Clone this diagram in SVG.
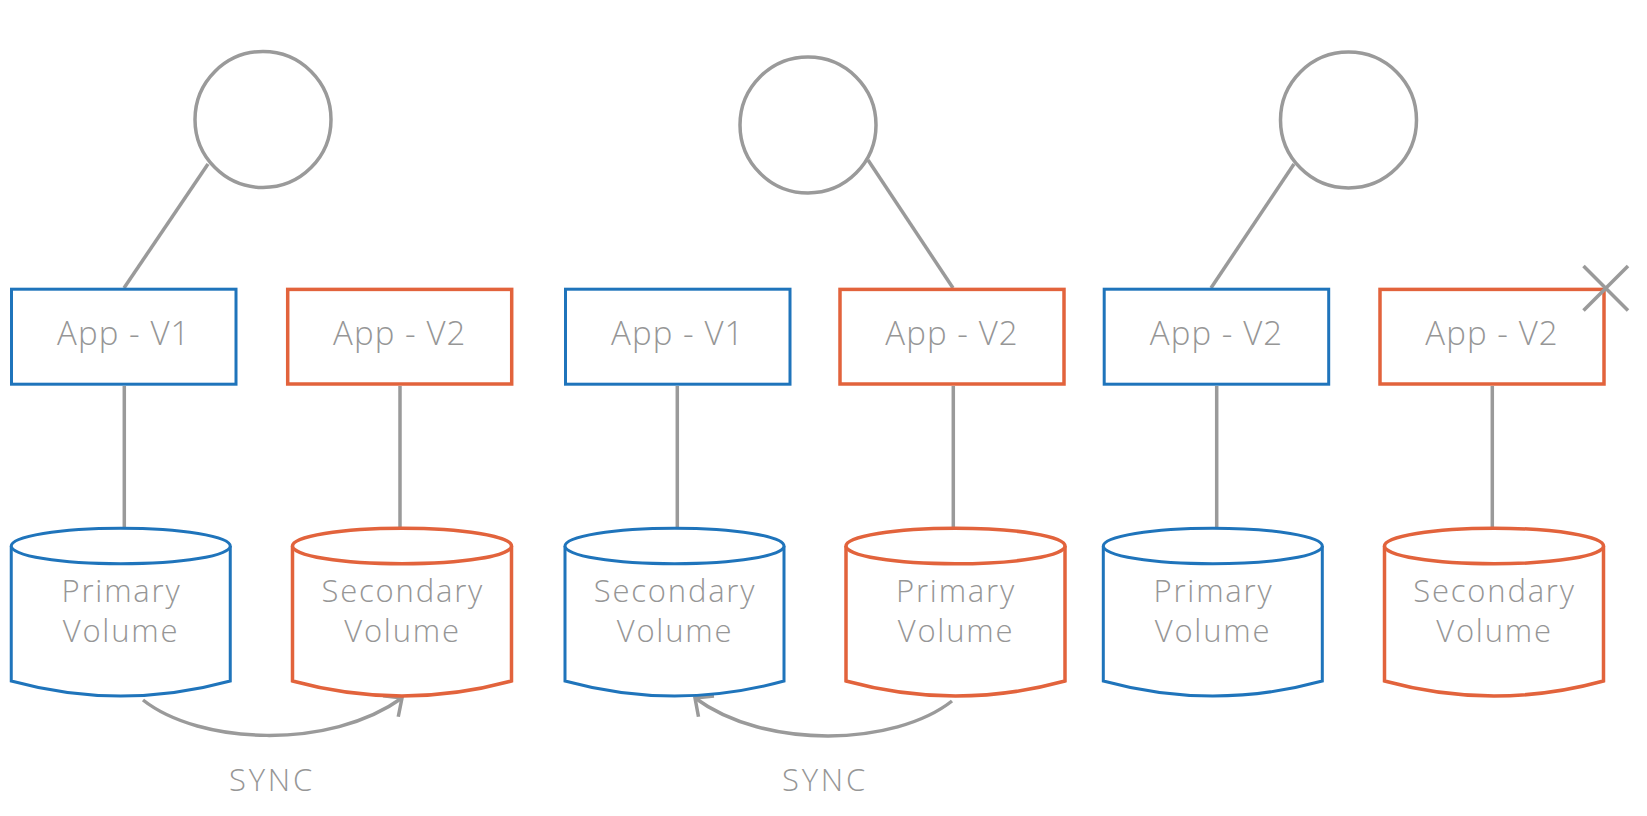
<svg xmlns="http://www.w3.org/2000/svg" width="1647" height="816" viewBox="0 0 1647 816">
<style>
.bg{fill:#ffffff}
.line{stroke:#9a9a9a;stroke-width:3.5;fill:none;stroke-linecap:butt}
.circle{stroke:#9a9a9a;stroke-width:3.5;fill:none}
.blue{stroke:#1f74bb;stroke-width:3;fill:#ffffff}
.orange{stroke:#e2633c;stroke-width:3.5;fill:#ffffff}
.lbl{font-family:"Open Sans","Liberation Sans",sans-serif;font-weight:300;fill:#969696;text-anchor:middle}
.app{font-size:33px;letter-spacing:1.1px}
.vol{font-size:31px;letter-spacing:1.8px}
.sync{font-size:31px;letter-spacing:2.8px}
</style>
<defs>
<marker id="arr" markerUnits="userSpaceOnUse" markerWidth="40" markerHeight="40" viewBox="-20 -20 40 40" refX="0" refY="0" orient="auto">
<path d="M-14,-13 L0,0 L-14,13" fill="none" stroke="#9a9a9a" stroke-width="3.5"/>
</marker>
</defs>
<rect class="bg" x="0" y="0" width="1647" height="816"/>

<g id="connectors">
<line class="line" x1="208" y1="164" x2="124" y2="288"/>
<line class="line" x1="868" y1="160" x2="953" y2="288"/>
<line class="line" x1="1294" y1="164" x2="1211" y2="288"/>
<line class="line" x1="124.3" y1="386" x2="124.3" y2="528"/>
<line class="line" x1="400" y1="386" x2="400" y2="528"/>
<line class="line" x1="677.3" y1="386" x2="677.3" y2="528"/>
<line class="line" x1="953.3" y1="386" x2="953.3" y2="528"/>
<line class="line" x1="1216.7" y1="386" x2="1216.7" y2="528"/>
<line class="line" x1="1492.3" y1="386" x2="1492.3" y2="528"/>
<path class="line" d="M143,700 C200,745 330,750 402,698" marker-end="url(#arr)"/>
<path class="line" d="M952,701 C895,746 765,750 695,698" marker-end="url(#arr)"/>
</g>

<g id="client1"><circle class="circle" cx="263" cy="119.5" r="68"/></g>
<g id="client2"><circle class="circle" cx="808" cy="125" r="68"/></g>
<g id="client3"><circle class="circle" cx="1348.5" cy="120" r="68"/></g>

<g id="app1"><rect class="blue" x="11.5" y="289.2" width="224.5" height="95"/><text class="lbl app" x="123.75" y="345">App - V1</text></g>
<g id="app2"><rect class="orange" x="287.7" y="289.4" width="224" height="94.6"/><text class="lbl app" x="399.75" y="345">App - V2</text></g>
<g id="app3"><rect class="blue" x="565.5" y="289.2" width="224.5" height="95"/><text class="lbl app" x="677.75" y="345">App - V1</text></g>
<g id="app4"><rect class="orange" x="840" y="289.4" width="224" height="94.6"/><text class="lbl app" x="952" y="345">App - V2</text></g>
<g id="app5"><rect class="blue" x="1104.2" y="289.2" width="224.5" height="95"/><text class="lbl app" x="1216.5" y="345">App - V2</text></g>
<g id="app6"><rect class="orange" x="1380" y="289.4" width="224" height="94.6"/><text class="lbl app" x="1492" y="345">App - V2</text></g>

<g id="vol1">
<path class="blue" d="M11.25,546 L11.25,681 Q120.75,711 230.25,681 L230.25,546"/>
<ellipse class="blue" cx="120.75" cy="546" rx="109.5" ry="17.8"/>
<text class="lbl vol" x="121.5" y="601.7">Primary</text><text class="lbl vol" x="121" y="641.7">Volume</text>
</g>
<g id="vol2">
<path class="orange" d="M292.5,546 L292.5,681 Q402,711 511.5,681 L511.5,546"/>
<ellipse class="orange" cx="402" cy="546" rx="109.5" ry="17.8"/>
<text class="lbl vol" x="402.8" y="601.7">Secondary</text><text class="lbl vol" x="402.5" y="641.7">Volume</text>
</g>
<g id="vol3">
<path class="blue" d="M565,546 L565,681 Q674.5,711 784,681 L784,546"/>
<ellipse class="blue" cx="674.5" cy="546" rx="109.5" ry="17.8"/>
<text class="lbl vol" x="675" y="601.7">Secondary</text><text class="lbl vol" x="675" y="641.7">Volume</text>
</g>
<g id="vol4">
<path class="orange" d="M846,546 L846,681 Q955.5,711 1065,681 L1065,546"/>
<ellipse class="orange" cx="955.5" cy="546" rx="109.5" ry="17.8"/>
<text class="lbl vol" x="956" y="601.7">Primary</text><text class="lbl vol" x="956" y="641.7">Volume</text>
</g>
<g id="vol5">
<path class="blue" d="M1103.3,546 L1103.3,681 Q1212.8,711 1322.3,681 L1322.3,546"/>
<ellipse class="blue" cx="1212.8" cy="546" rx="109.5" ry="17.8"/>
<text class="lbl vol" x="1213.5" y="601.7">Primary</text><text class="lbl vol" x="1213" y="641.7">Volume</text>
</g>
<g id="vol6">
<path class="orange" d="M1384.5,546 L1384.5,681 Q1494,711 1603.5,681 L1603.5,546"/>
<ellipse class="orange" cx="1494" cy="546" rx="109.5" ry="17.8"/>
<text class="lbl vol" x="1494.5" y="601.7">Secondary</text><text class="lbl vol" x="1494.5" y="641.7">Volume</text>
</g>

<g id="sync1"><text class="lbl sync" x="272" y="791">SYNC</text></g>
<g id="sync2"><text class="lbl sync" x="825" y="791">SYNC</text></g>

<g id="terminated">
<line class="line" x1="1583.5" y1="266" x2="1628" y2="310.5"/>
<line class="line" x1="1628" y1="266" x2="1583.5" y2="310.5"/>
</g>
</svg>
